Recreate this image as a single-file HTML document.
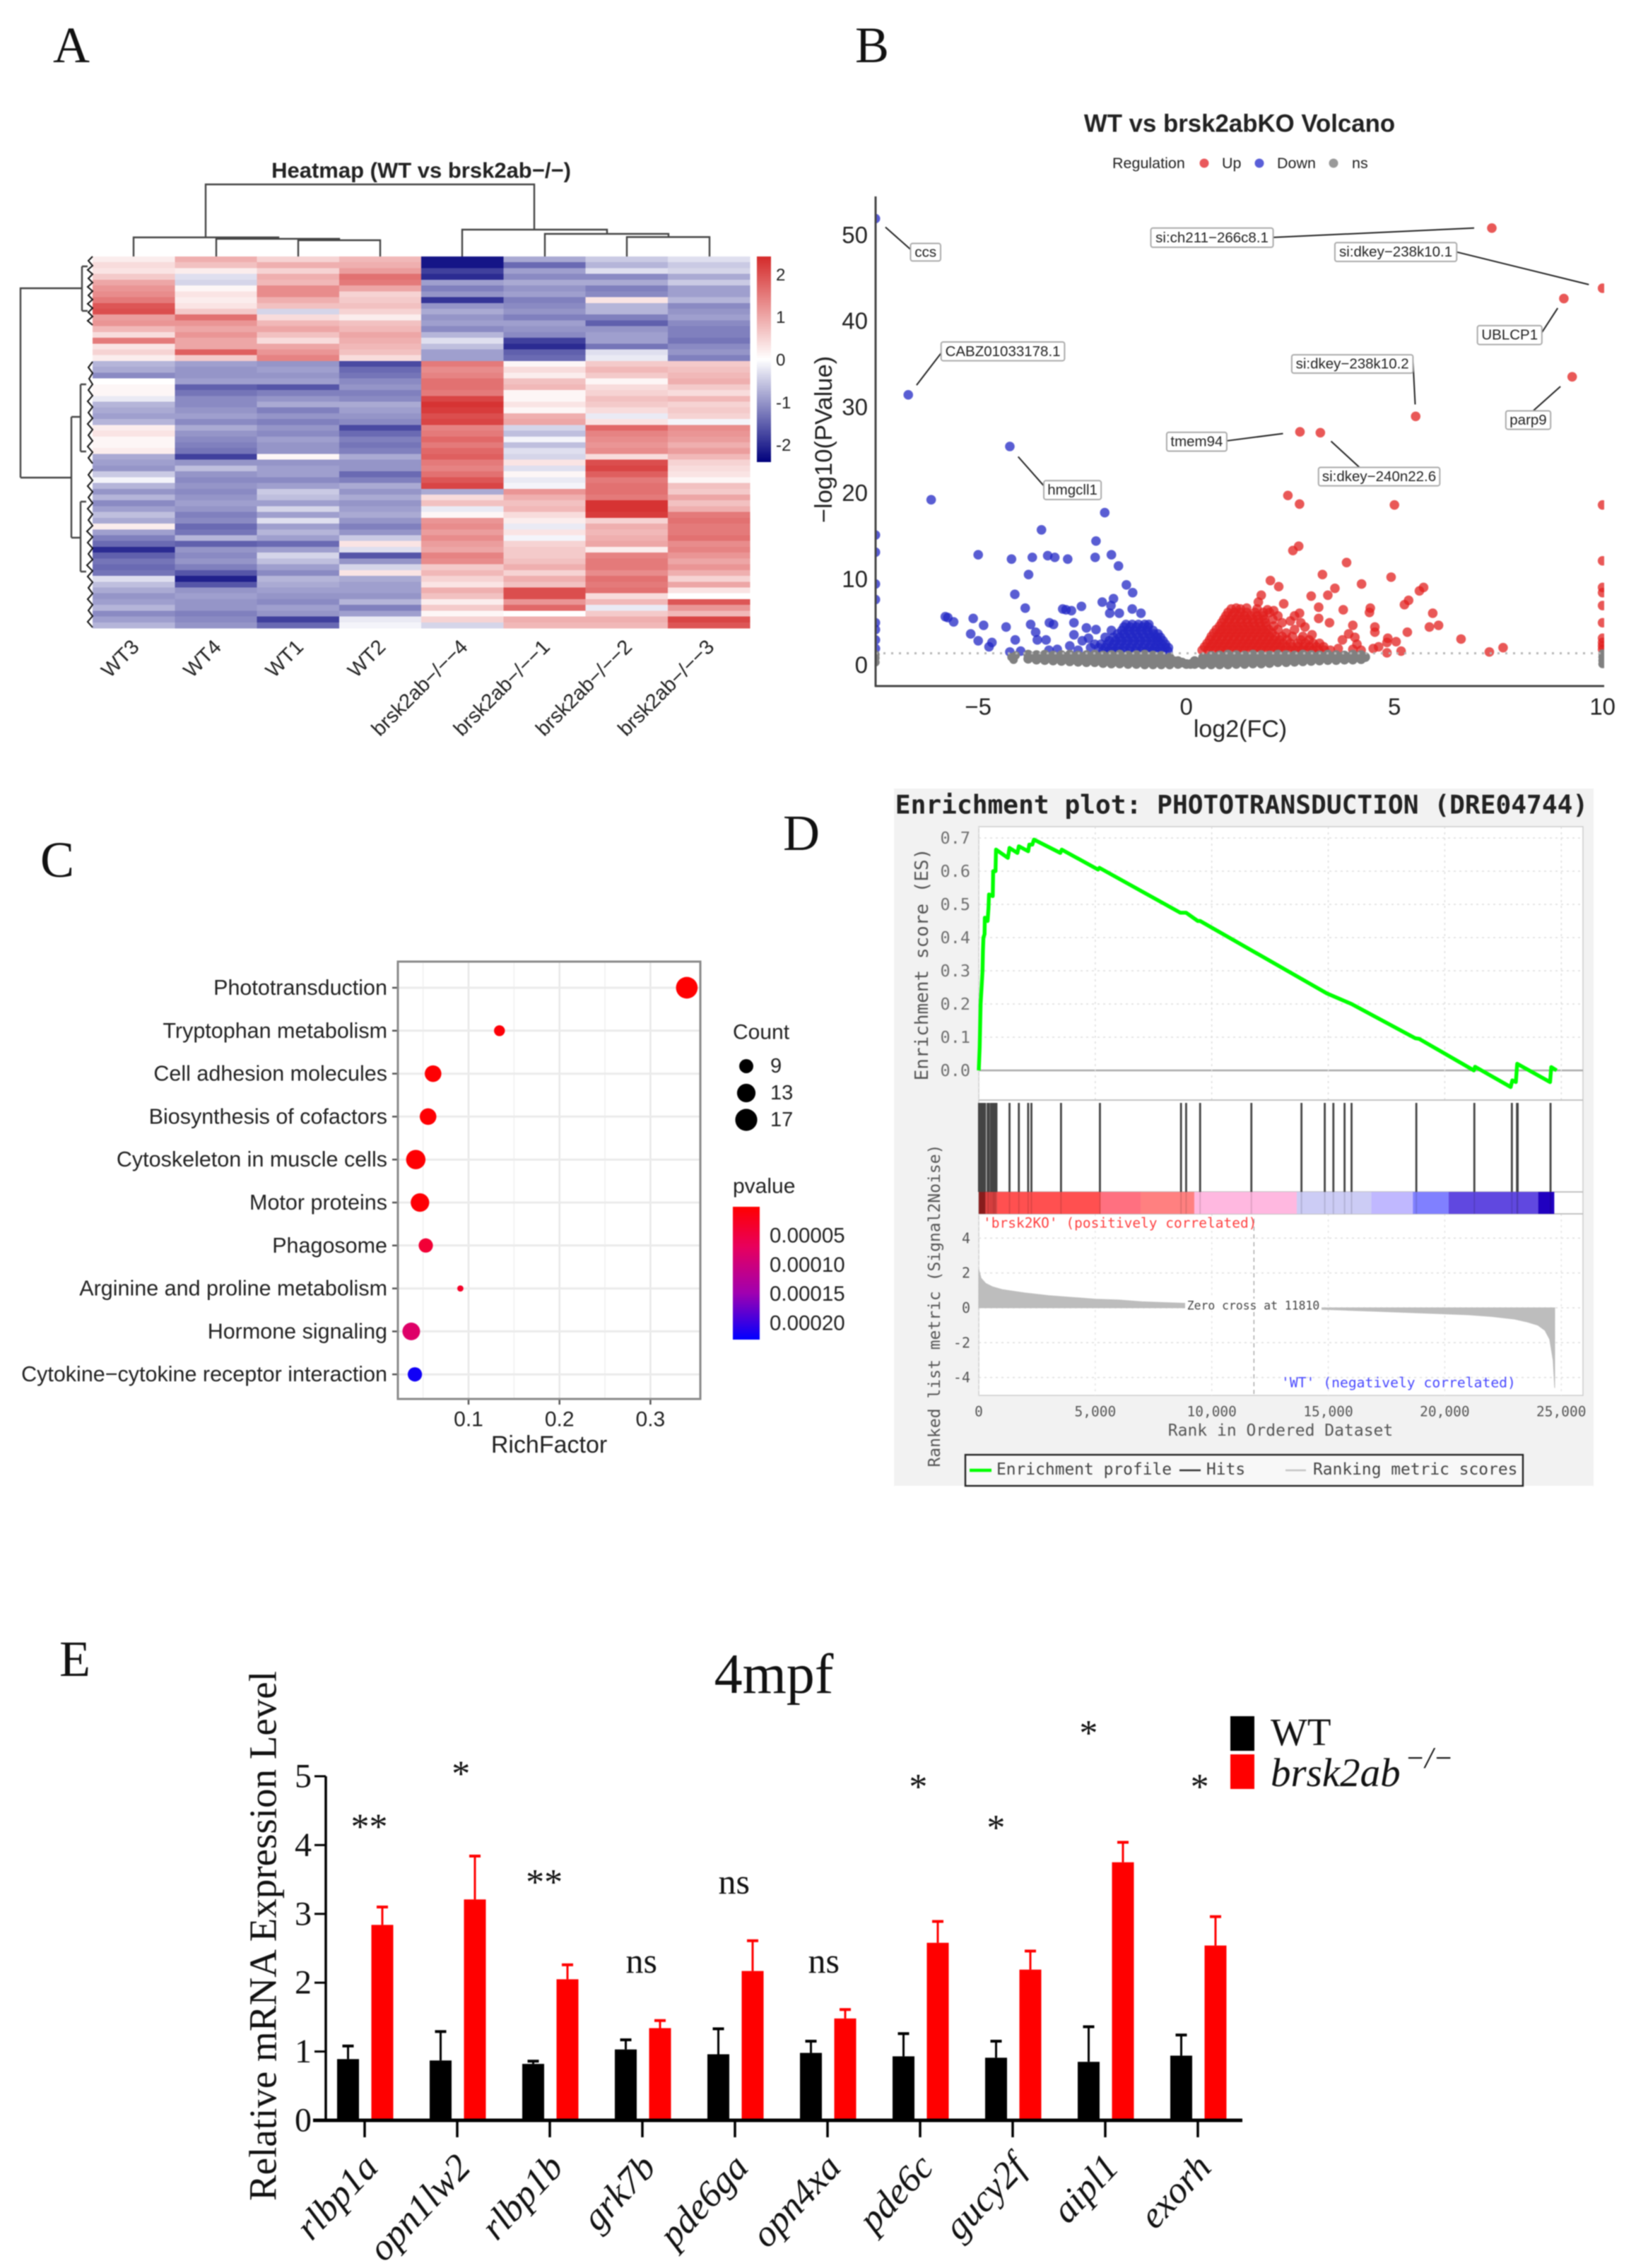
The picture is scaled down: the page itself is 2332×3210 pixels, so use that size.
<!DOCTYPE html>
<html lang="en">
<head>
<meta charset="utf-8">
<title>brsk2ab figure</title>
<style>
html,body{margin:0;padding:0;background:#fff}
svg{display:block;filter:blur(0.7px)}
text{font-family:"Liberation Sans",sans-serif;fill:#222}
.serif{font-family:"Liberation Serif",serif;fill:#111}
.mono{font-family:"DejaVu Sans Mono","Liberation Mono",monospace}
</style>
</head>
<body>
<svg id="fig" xmlns="http://www.w3.org/2000/svg" width="2332" height="3210" viewBox="0 0 2332 3210">
<defs>
<clipPath id="vclip"><rect x="1239" y="270" width="1031" height="701"/></clipPath>
<linearGradient id="hmGrad" x1="0" y1="0" x2="0" y2="1">
<stop offset="0" stop-color="#d42a2a"/><stop offset="0.5" stop-color="#ffffff"/><stop offset="1" stop-color="#00007c"/>
</linearGradient>
<linearGradient id="pGrad" x1="0" y1="0" x2="0" y2="1">
<stop offset="0" stop-color="#ff0000"/><stop offset="0.3" stop-color="#e8005c"/><stop offset="0.65" stop-color="#a000b0"/><stop offset="1" stop-color="#0000ff"/>
</linearGradient>
</defs>
<rect width="2332" height="3210" fill="#fff"/>

<text class="serif" x="75" y="88" font-size="72">A</text>
<text class="serif" x="1210" y="88" font-size="72">B</text>
<text class="serif" x="57" y="1241" font-size="72">C</text>
<text class="serif" x="1108" y="1203" font-size="72">D</text>
<text class="serif" x="84" y="2372" font-size="72">E</text>

<!-- Panel A -->
<text x="596" y="241" font-size="31" font-weight="bold" text-anchor="middle" dominant-baseline="central">Heatmap (WT vs brsk2ab−/−)</text>
<g id="hm"></g>
<path fill="none" stroke="#444" stroke-width="2.4" d="M291 336V261H756V325M189 363V336H394V338M306 363V338H480V340M422 363V340H538V363M654 363V325H859V331M771 363V331H946V335.5M887 363V335.5H1004V363"/>
<path fill="none" stroke="#444" stroke-width="2.4" d="M116 377V440M29 676V408H116M101 761V590M29 676H101M114 639V544M101 590H114M114 809V710M101 761H114M116 377H124M116 440H124M114 544H122M114 639H122M114 710H122M114 809H122"/>
<path fill="none" stroke="#111" stroke-width="2" d="M131 363L125 369L131 376L124 382L131 388L125 394L131 400L124 406L131 412L125 418L131 424L124 430L131 436L125 442L131 448L124 454L131 460M131 512L125 520L131 528L126 536L131 544L125 552L131 560L124 568L131 576L125 584L131 592L124 600L131 608L125 616L131 624L124 632L131 640L125 648L131 656M131 664L125 672L131 680L124 688L131 696L125 704L131 712L124 720L131 728L125 736L131 744L123 752L131 760L124 768L131 776L125 784L131 792L123 800L131 808L124 816L131 824L125 832L131 840L124 848L131 856L125 864L131 872L124 880L131 888"/>
<rect x="1071" y="363" width="20" height="291" fill="url(#hmGrad)"/>

<!-- Panel B -->
<text x="1754" y="175" font-size="34.8" font-weight="bold" text-anchor="middle" dominant-baseline="central">WT vs brsk2abKO Volcano</text>
<text x="1574" y="231" font-size="21.5" dominant-baseline="central">Regulation</text>
<circle cx="1704" cy="231" r="6.5" fill="#e9585c"/>
<text x="1729" y="231" font-size="21.5" dominant-baseline="central">Up</text>
<circle cx="1782" cy="231" r="6.5" fill="#5a5fd8"/>
<text x="1807" y="231" font-size="21.5" dominant-baseline="central">Down</text>
<circle cx="1887" cy="231" r="6.5" fill="#999"/>
<text x="1913" y="231" font-size="21.5" dominant-baseline="central">ns</text>
<g id="vo"></g>
<text x="1755" y="1032" font-size="34" text-anchor="middle" dominant-baseline="central">log2(FC)</text>
<text transform="translate(1166,622) rotate(-90)" font-size="34.5" text-anchor="middle" dominant-baseline="central">−log10(PValue)</text>

<!-- Panel C -->
<rect x="563" y="1361" width="428" height="619" fill="#fff"/>
<g id="dp"></g>
<rect x="563" y="1361" width="428" height="619" fill="none" stroke="#8a8a8a" stroke-width="3"/>
<text x="777" y="2045" font-size="34" text-anchor="middle" dominant-baseline="central">RichFactor</text>
<text x="1037" y="1461" font-size="30" dominant-baseline="central">Count</text>
<text x="1037" y="1679" font-size="30" dominant-baseline="central">pvalue</text>
<rect x="1037" y="1708" width="38" height="188" fill="url(#pGrad)"/>

<!-- Panel D -->
<rect x="1265" y="1116" width="990" height="987" fill="#f2f2f2"/>
<rect x="1385" y="1170" width="855" height="805" fill="#fff" stroke="#ccc" stroke-width="1.5"/>
<text class="mono" x="1757" y="1139" font-size="36.2" font-weight="bold" text-anchor="middle" dominant-baseline="central" fill="#111">Enrichment plot: PHOTOTRANSDUCTION (DRE04744)</text>
<g id="gs"></g>
<text class="mono" transform="translate(1305,1365) rotate(-90)" font-size="26" text-anchor="middle" dominant-baseline="central" style="fill:#555">Enrichment score (ES)</text>
<text class="mono" transform="translate(1323,1848) rotate(-90)" font-size="23" text-anchor="middle" dominant-baseline="central" style="fill:#555">Ranked list metric (Signal2Noise)</text>
<text class="mono" x="1391" y="1731" font-size="19.5" dominant-baseline="central" style="fill:#ff4040">'brsk2KO' (positively correlated)</text>
<text class="mono" x="1813" y="1957" font-size="19.7" dominant-baseline="central" style="fill:#4848ff">'WT' (negatively correlated)</text>
<text class="mono" x="1812" y="2025" font-size="23" text-anchor="middle" dominant-baseline="central" style="fill:#555">Rank in Ordered Dataset</text>
<g>
<rect x="1366" y="2059" width="789" height="44" fill="#f8f8f8" stroke="#222" stroke-width="2.4"/>
<line x1="1372" y1="2081" x2="1403" y2="2081" stroke="#00ff00" stroke-width="4.5"/>
<text class="mono" x="1410" y="2080" font-size="22.9" dominant-baseline="central" style="fill:#444">Enrichment profile</text>
<line x1="1669" y1="2081" x2="1699" y2="2081" stroke="#333" stroke-width="2.5"/>
<text class="mono" x="1707" y="2080" font-size="22.9" dominant-baseline="central" style="fill:#444">Hits</text>
<line x1="1819" y1="2081" x2="1848" y2="2081" stroke="#c4c4c4" stroke-width="2.5"/>
<text class="mono" x="1858" y="2080" font-size="22.9" dominant-baseline="central" style="fill:#444">Ranking metric scores</text>
</g>

<!-- Panel E -->
<text class="serif" x="1095" y="2396" font-size="80" text-anchor="middle">4mpf</text>
<text class="serif" transform="translate(372,2740) rotate(-90)" font-size="55" text-anchor="middle" dominant-baseline="central">Relative mRNA Expression Level</text>
<g id="qp"></g>
<rect x="1741" y="2429" width="34" height="49" fill="#000"/>
<rect x="1741" y="2483" width="34" height="49" fill="#ff0000"/>
<text class="serif" x="1798" y="2470" font-size="55">WT</text>
<text class="serif" x="1798" y="2528" font-size="57" font-style="italic">brsk2ab</text>
<text class="serif" x="1988" y="2502" font-size="42" font-style="italic">−/−</text>
</svg>

<script>
/* ---------- Heatmap data: one row per gene; columns follow heatmapColumns ---------- */
const heatmapColumns = ["WT3","WT4","WT1","WT2","brsk2ab−/−−4","brsk2ab−/−−1","brsk2ab−/−−2","brsk2ab−/−−3"];
const heatmapRows = [
[.2,.9,.5,.8,-2.2,-.8,-.5,-.3],[.4,.7,.9,.9,-2.2,-1.4,-.7,-.5],[.3,.2,.5,1.1,-1.8,-.9,-.3,-.4],[.6,-.3,.9,1.6,-2,-1.1,-1.1,-.8],
[1,-.4,.8,1.5,-.9,-.8,-.8,-.5],[1.2,.1,1.3,1,-1.2,-1,-1.2,-.9],[1.3,.3,1.3,.5,-1,-.9,-1.1,-.9],[1.5,.2,.9,.6,-1.9,-1.2,.3,-.7],
[1.9,.3,.7,.7,-1,-1.1,-.7,-1.1],[2,.6,-.4,.5,-.8,-1,-.7,-1],[1.1,1.6,.4,.2,-1,-1.2,-1.2,-.9],[1.2,1.2,.8,.7,-.9,-.9,-1.5,-1.1],
[.8,1,1,.8,-1.1,-1,-1,-1.2],[.4,1.2,.7,1,-.7,-1.1,-.9,-1.2],[1.5,1,.4,.9,-.3,-1.8,-.9,-1.3],[.3,1,1,.8,-.6,-2,-1.3,-1.1],
[.5,1.8,1.2,.7,-.9,-1.5,-.3,-1],[.2,.6,1.4,.4,-.9,-1.4,-.2,-1.2],
[-.7,-.9,-1,-1.7,1.5,.1,.6,.6],[-.8,-1,-.9,-1.4,1.3,.4,.8,.7],[-1.1,-1,-1,-1.3,1.4,.2,.6,.8],[0,-.9,-.9,-1.1,1.6,.7,.1,.9],
[.1,-1.5,-1.6,-1,1.6,.8,.4,.6],[.1,-1.3,-1.2,-1.2,1.5,.1,.5,.4],[-.2,-1.1,-1,-1.1,2.1,.1,.7,.8],[-.7,-1.1,-.8,-.8,2.3,.3,.6,.5],
[-.8,-1,-1.2,-.9,2.2,.1,.4,.6],[-.9,-.9,-1,-1,2,.9,-.2,.5],[-.7,-1.1,-1.2,-1.1,2.1,1,.3,-.1],
[.2,-.8,-1,-1.7,1.4,-.4,1.7,1.3],[.3,-1,-1.1,-1.4,1.5,-.6,1.4,1.2],[.1,-1.1,-.9,-1.2,1.7,-.1,1.3,1.1],[.1,-1.2,-1,-1.3,1.5,-.6,1.2,.9],
[.2,-1.3,-1,-1.2,1.7,-.3,1.3,1.1],[-.8,-1.8,.1,-.8,1.8,-.4,.4,.8],[-.9,-1,-1,-1,1.5,.3,2,.5],[-1,-.6,-.9,-1,1.4,-.3,2.1,.4],
[-.5,-1,-.9,-1.4,1.6,.1,1.8,.3],[-.1,-1.1,-1.1,-1.2,1.9,-.2,1.5,.1],[-.7,-1,-.9,-.8,2.1,-.1,1.6,.7],
[-1,-1.1,-.5,-1,-.8,1.2,1.6,.6],[-.7,-1,-.6,-.8,.4,.9,1.5,1],[-1.1,-.9,-.9,-1,.7,.7,2.3,.7],[-.9,-1,-.4,-.9,-.2,.8,2.3,.9],[-.6,-1.2,-.9,-.8,.1,.4,2.2,1.5],
[-.8,-1.1,-.3,-1,1.2,.2,.5,1.6],[.2,-1.4,-.9,-1.2,1.3,-.2,.9,1.5],[-.9,-1.3,-.7,-1,1.1,.3,.8,1.5],[-1.2,-.7,-.9,-.5,1.3,-.1,.9,1.6],
[-1.4,-1.5,-1.4,.3,1.1,.5,1,1.3],[-2,-1,-.9,-.3,1,.6,.2,1.4],[-1.5,-1.1,-.4,-1.6,1.4,.6,1.4,1.2],[-1.3,-1,-.6,-1,1.3,.7,1.5,1],
[-1.4,-1.2,-.9,-.4,.6,.9,1.5,1.2],[-1.3,-1.6,-1.1,.3,.8,.5,1.3,.9],[-.3,-2.1,-.7,-.8,.5,.9,1.6,.5],[-.6,-1.6,-.8,-.9,.3,.7,1.5,1],
[-.8,-1,-.9,-.9,.9,2,1.6,.3],[-1,-.9,-1,-1,.7,2,.4,0],[-.9,-1,-1.1,-.7,.2,1.2,.8,1.9],[-.7,-1,-.9,-1.2,.6,1.7,-.2,1.2],
[-1.1,-1.2,-1,-.9,.1,0,.6,.8],[-.9,-1.1,-1.8,-.2,.5,.9,.9,2.1],[-.7,-1,-1.4,-.1,-.4,.8,.8,1.9]
];
const heatmapTicks = [2,1,0,-1,-2];

/* ---------- Volcano data: [log2FC, -log10P] ---------- */
const volcanoXTicks = [-5,0,5,10];
const volcanoYTicks = [0,10,20,30,40,50];
const pThreshold = 1.35;
const downPoints = [[-7.47,51.9],[-6.68,31.4],[-4.24,25.4],[-6.13,19.2],[-1.96,17.7],[-3.48,15.7],[-2.17,14.4],[-7.47,15.1],[-7.47,13.1],[-5,12.8],[-4.2,12.3],[-3.7,12.5],[-3.33,12.7],[-3.16,12.5],[-2.85,12.3],[-2.19,12.5],[-1.8,12.8],[-1.63,11.5],[-3.79,10.5],[-1.44,9.3],[-7.47,9.4],[-1.29,8.4],[-4.12,8.2],[-7.47,7.6],[-1.75,7.7],[-2.02,7.3],[-2.52,6.8],[-3.87,6.6],[-2.97,6.5],[-2.89,6.4],[-2.76,6.3],[-1.81,6.9],[-1.3,6.5],[-1.09,6],[-1.61,6],[-1.84,6],[-5.79,5.6],[-5.73,5.5],[-5.59,5],[-5.12,5.4],[-4.87,4.6],[-4.33,4.4],[-3.74,4.7],[-3.29,4.9],[-3.19,4.7],[-2.7,4.9],[-7.47,4.9],[-7.47,4.1],[-7.47,2.9],[-7.47,1.9],[-5.18,3.6],[-5,2.8],[-4.67,2.6],[-4.74,2.1],[-4.11,2.9],[-3.62,3.8],[-3.58,2.9],[-3.37,2.9],[-4.24,1.5],[-3.98,1.6],[-2.4,4.3],[-2.17,4.1],
[-2.8,2.2],[-2.6,1.7],[-2.5,2.8],[-2.3,2],[-2.7,3.5],[-2.35,3.1],[-3.1,1.8],[-3.3,1.7],
[-2,1.6],[-1.87,1.6],[-1.74,1.6],[-1.61,1.6],[-1.48,1.6],[-1.35,1.6],[-1.22,1.6],[-1.09,1.6],[-.96,1.6],[-.83,1.6],[-.7,1.6],[-.57,1.6],[-.44,1.6],
[-2.1,2],[-1.95,2],[-1.8,2],[-1.65,2],[-1.5,2],[-1.35,2],[-1.2,2],[-1.05,2],[-.9,2],[-.76,2],[-.63,2],[-.5,2],[-.43,2],
[-2.2,2.4],[-2.05,2.4],[-1.9,2.4],[-1.75,2.4],[-1.6,2.4],[-1.45,2.4],[-1.3,2.4],[-1.15,2.4],[-1,2.4],[-.85,2.4],[-.72,2.4],[-.6,2.4],[-.5,2.4],
[-1.85,2.8],[-1.7,2.8],[-1.55,2.8],[-1.4,2.8],[-1.25,2.8],[-1.1,2.8],[-.95,2.8],[-.8,2.8],[-.68,2.8],[-.56,2.8],
[-1.95,3.2],[-1.75,3.2],[-1.6,3.2],[-1.45,3.2],[-1.3,3.2],[-1.15,3.2],[-1,3.2],[-.85,3.2],[-.72,3.2],[-.62,3.2],
[-1.65,3.6],[-1.5,3.6],[-1.35,3.6],[-1.2,3.6],[-1.05,3.6],[-.9,3.6],[-.78,3.6],[-.68,3.6],
[-1.8,4],[-1.55,4],[-1.4,4],[-1.25,4],[-1.1,4],[-.95,4],[-.8,4],[-1.5,4.4],[-1.35,4.4],[-1.2,4.4],[-1.05,4.4],[-.92,4.4],[-1.45,4.7],[-1.3,4.7],[-1.15,4.7],[-1,4.7],[-.9,4.7]];
const upPoints = [[7.34,50.8],[10,43.8],[9.07,42.6],[9.27,33.5],[5.51,28.9],[2.73,27.1],[3.22,27],[2.44,19.7],[2.72,18.7],[5,18.6],[10,18.6],[2.7,13.8],[2.56,13.3],[3.85,11.9],[10,12.1],[3.27,10.5],[4.92,10.2],[2.02,9.8],[2.22,9.1],[4.21,9.4],[3.57,8.9],[5.7,9],[5.6,8.6],[10,9],[10,8.4],[1.8,8.1],[3,8],[3.4,8.1],[10,6.9],[5.34,7.5],[5.24,7],[2.34,7.1],[1.73,7.3],[3.18,6.7],[4.42,6.6],[4.4,6.1],[3.77,6.4],[5.92,6],[2.72,6],[3.18,5.4],[3.44,4.9],[4,4.6],[6.06,4.6],[5.84,4.4],[4.53,4.4],[4.53,3.8],[5.31,3.8],[10,4.9],[6.6,3],[7.61,2],[7.28,1.5],[5.16,1.6],[4.82,1.4],[5.04,2.7],[4.84,3.1],[4.82,2.6],[4.62,2.1],[4.49,1.9],[10,3.1],[10,2.6],[10,2.2],[10,1.8],[4.05,3.2],[4.1,2.4],[3.9,3.6],[3.75,2.9],[3.65,1.9],[4,1.8],[4.2,1.7],
[.38,1.7],[.52,1.7],[.66,1.7],[.8,1.7],[.94,1.7],[1.08,1.7],[1.22,1.7],[1.36,1.7],[1.5,1.7],[1.64,1.7],[1.78,1.7],[1.92,1.7],[2.06,1.7],[2.2,1.7],[2.34,1.7],[2.48,1.7],[2.62,1.7],[2.76,1.7],[2.9,1.7],[3.04,1.7],[3.18,1.7],[3.32,1.7],[3.46,1.7],
[.44,2.1],[.58,2.1],[.72,2.1],[.86,2.1],[1,2.1],[1.14,2.1],[1.28,2.1],[1.42,2.1],[1.56,2.1],[1.7,2.1],[1.84,2.1],[1.98,2.1],[2.12,2.1],[2.26,2.1],[2.4,2.1],[2.54,2.1],[2.68,2.1],[2.82,2.1],[2.96,2.1],[3.12,2.1],[3.3,2.1],
[.5,2.5],[.64,2.5],[.78,2.5],[.92,2.5],[1.06,2.5],[1.2,2.5],[1.34,2.5],[1.48,2.5],[1.62,2.5],[1.76,2.5],[1.9,2.5],[2.04,2.5],[2.18,2.5],[2.32,2.5],[2.5,2.5],[2.68,2.5],[2.86,2.5],[3.05,2.5],[3.2,2.5],
[.56,2.9],[.7,2.9],[.84,2.9],[.98,2.9],[1.12,2.9],[1.26,2.9],[1.4,2.9],[1.54,2.9],[1.68,2.9],[1.82,2.9],[1.96,2.9],[2.1,2.9],[2.24,2.9],[2.42,2.9],[2.75,2.9],[2.95,2.9],
[.6,3.3],[.74,3.3],[.88,3.3],[1.02,3.3],[1.16,3.3],[1.3,3.3],[1.44,3.3],[1.58,3.3],[1.72,3.3],[1.86,3.3],[2,3.3],[2.14,3.3],[2.3,3.3],[2.55,3.3],[2.8,3.3],[3.02,3.5],
[.66,3.7],[.8,3.7],[.94,3.7],[1.08,3.7],[1.22,3.7],[1.36,3.7],[1.5,3.7],[1.64,3.7],[1.78,3.7],[1.92,3.7],[2.06,3.7],[2.4,3.7],
[.72,4.1],[.86,4.1],[1,4.1],[1.14,4.1],[1.28,4.1],[1.42,4.1],[1.56,4.1],[1.7,4.1],[1.84,4.1],[1.98,4.1],[2.2,4.1],[2.6,4.1],[2.85,4.4],
[.8,4.5],[.94,4.5],[1.08,4.5],[1.22,4.5],[1.36,4.5],[1.5,4.5],[1.64,4.5],[1.78,4.5],[1.92,4.5],[2.1,4.5],
[.85,4.9],[1,4.9],[1.15,4.9],[1.3,4.9],[1.45,4.9],[1.6,4.9],[1.75,4.9],[1.9,4.9],[2.3,4.9],[2.5,5.1],[2.75,4.9],
[.9,5.3],[1.04,5.3],[1.18,5.3],[1.32,5.3],[1.46,5.3],[1.6,5.3],[1.74,5.3],[1.88,5.3],[2.08,5.3],
[.95,5.7],[1.1,5.7],[1.25,5.7],[1.4,5.7],[1.55,5.7],[1.7,5.7],[1.85,5.7],[2.2,5.7],[2.6,5.7],
[1,6.1],[1.15,6.1],[1.3,6.1],[1.45,6.1],[1.65,6.1],[1.85,6.1],[2,6.1],
[1.08,6.5],[1.2,6.6],[1.3,6.5],[1.45,6.6],[1.7,6.5],[1.95,6.4],[2.1,6.3]];
const nsX = [-3.8,-3.6,-3.4,-3.2,-3,-2.8,-2.6,-2.4,-2.2,-2,-1.8,-1.6,-1.4,-1.2,-1,-.8,-.6,-.4,-.2,0,.2,.4,.6,.8,1,1.2,1.4,1.6,1.8,2,2.2,2.4,2.6,2.8,3,3.2,3.4,3.6,3.8,4,4.2];
const nsLowY = [.7,.6,.55,.5,.45,.4,.35,.3,.3,.2,.15,.15,.1,.1,.05,.05,.05,.05,.1,.1,.1,.05,.05,.05,.05,.1,.1,.15,.15,.2,.3,.3,.35,.4,.45,.5,.55,.55,.6,.6,.65];
const nsHighY = [1.2,1.15,1.2,1.1,1.15,1.2,1.1,1.15,1.2,1.1,1.15,1.2,1.1,1.15,1.2,1.1,1.05,.85,.45,.1,.45,.85,1.05,1.1,1.2,1.15,1.1,1.2,1.15,1.1,1.2,1.15,1.1,1.2,1.15,1.1,1.2,1.15,1.1,1.2,1.15];
const nsExtra = [[-4.2,.9],[-4.15,.6],[-4.1,1.1],[-7.47,.3],[-7.47,.8],[-7.47,1.2],[10,.1],[10,.5],[10,.9],[10,1.3]];
const geneLabels = ["ccs","si:ch211−266c8.1","si:dkey−238k10.1","UBLCP1","CABZ01033178.1","si:dkey−238k10.2","parp9","tmem94","si:dkey−240n22.6","hmgcll1"];
const geneBoxes = [[218,354,273,395],[658,318,882,363],[995,352,1218,396],[1256,546,1374,590],[274,584,500,628],[916,614,1138,657],[1308,745,1390,788],[687,795,797,839],[965,877,1187,920],[462,908,567,952]];
const geneLeaders = [[172,316,218,368],[882,340,1250,318],[1218,374,1460,450],[1374,562,1403,505],[274,610,229,685],[1138,630,1142,730],[1358,745,1408,688],[797,815,900,798],[1040,877,988,816],[462,920,415,852]];

/* ---------- KEGG dot plot data ---------- */
const pathways = ["Phototransduction","Tryptophan metabolism","Cell adhesion molecules","Biosynthesis of cofactors","Cytoskeleton in muscle cells","Motor proteins","Phagosome","Arginine and proline metabolism","Hormone signaling","Cytokine−cytokine receptor interaction"];
const richFactor = [.34,.134,.061,.0555,.042,.0466,.053,.091,.037,.041];
const pathwayCount = [18,8,12,12,15,14,10,7,13,10];
const pathwayP = [.000001,.000006,.000002,.000003,.000002,.000004,.00004,.00003,.00008,.00022];
const richTicks = [.1,.2,.3];
const richMinorTicks = [.05,.15,.25];
const countLegend = [9,13,17];
const pLegend = [.00005,.0001,.00015,.0002];
const pLegendText = ["0.00005","0.00010","0.00015","0.00020"];

/* ---------- GSEA data ---------- */
const esRank = [0,40,80,120,160,180,200,250,260,380,420,440,600,620,720,740,1250,1320,1660,1720,2120,2170,2300,2370,3500,3560,5120,5180,8650,8900,9400,9500,14940,16000,18730,18900,21250,21300,22830,22900,23050,23110,24520,24570,24800];
const esValue = [0,.07,.2,.25,.3,.36,.4,.41,.46,.45,.49,.53,.525,.6,.6,.665,.64,.67,.655,.675,.66,.68,.68,.695,.655,.665,.605,.61,.475,.475,.45,.45,.232,.2,.097,.095,.0,.011,-.05,-.03,-.035,.02,-.035,.01,0];
const hitRanks = [10,30,50,70,90,110,130,150,170,190,210,230,250,270,380,430,520,600,650,700,760,1320,1720,2120,2260,3530,5200,8680,8900,9500,11700,13850,14850,15220,15700,16000,18780,21270,22880,23100,23130,24540];
const colorBandEnds = [300,770,5230,6945,9250,13650,16850,18630,20170,24010,24700];
const colorBandFill = ["#c92c2c","#e84444","#ff5050","#ff7080","#ff8080","#ffb8e0","#ccccf5","#c0b8ff","#8080ff","#6048e0","#2000c0"];
const metricRank = [0,100,300,600,1000,1500,2000,3000,4000,5000,6000,7000,8000,9000,11810,15000,17000,19000,20000,21000,22000,23000,23500,24000,24300,24500,24650,24720];
const metricValue = [2.2,1.7,1.4,1.2,1.05,.95,.85,.7,.6,.5,.45,.35,.3,.25,0,-.1,-.2,-.3,-.35,-.4,-.5,-.65,-.8,-1,-1.3,-1.8,-3,-4.6];
const esTicks = [0,.1,.2,.3,.4,.5,.6,.7];
const metricTicks = [4,2,0,-2,-4];
const rankTicks = [0,5000,10000,15000,20000,25000];
const rankTickText = ["0","5,000","10,000","15,000","20,000","25,000"];

/* ---------- qPCR data ---------- */
const genes = ["rlbp1a","opn1lw2","rlbp1b","grk7b","pde6ga","opn4xa","pde6c","gucy2f","aipl1","exorh"];
const wtMean = [.89,.87,.82,1.03,.96,.98,.93,.91,.85,.94];
const wtUpper = [1.08,1.29,.86,1.17,1.33,1.15,1.26,1.15,1.36,1.24];
const koMean = [2.84,3.21,2.05,1.34,2.17,1.48,2.58,2.19,3.75,2.54];
const koUpper = [3.1,3.84,2.26,1.45,2.61,1.61,2.89,2.46,4.04,2.96];
const sigText = ["**","*","**","ns","ns","ns","*","*","*","*"];
const sigLevel = [4.33,5.1,3.52,2.25,3.4,2.25,4.91,4.31,5.69,4.91];
const sigGroup = [.05,1.04,1.94,2.99,3.99,4.96,5.98,6.82,7.82,9.02];
const qpcrTicks = [0,1,2,3,4,5];

/* ---------- Helpers ---------- */
const NS = "http://www.w3.org/2000/svg";
function mk(tag, attrs, parent, content) {
  const e = document.createElementNS(NS, tag);
  for (const k in attrs) e.setAttribute(k, attrs[k]);
  if (content !== undefined) e.textContent = content;
  parent.appendChild(e);
  return e;
}
function lerpColor(a, b, t) {
  const c = a.map((v, i) => Math.round(v + (b[i] - v) * t));
  return "rgb(" + c.join(",") + ")";
}

/* ---------- Panel A ---------- */
const hmG = document.getElementById("hm");
const hmLeft = 131, hmTop = 363, hmColW = 116.25, hmRowH = 526 / heatmapRows.length;
function hmColor(v) {
  const t = Math.min(1, Math.abs(v) / 2.4);
  return v >= 0 ? lerpColor([255,255,255],[212,42,42],t) : lerpColor([255,255,255],[0,0,124],t);
}
function hmX(i) { return hmLeft + i * hmColW; }
function hmY(r) { return hmTop + r * hmRowH; }
function cbY(v) { return 510 - v * 60.3; }
heatmapRows.forEach((row, r) => row.forEach((v, c) => {
  const cell = mk("rect", {x: hmX(c), y: hmY(r), width: hmColW + .5, height: hmRowH + .5, fill: hmColor(v), "shape-rendering": "crispEdges"}, hmG);
  
  
}));
heatmapColumns.forEach((name, i) => {
  const lx = hmX(i) + hmColW / 2 + 3;
  const t = mk("text", {transform: "translate(" + lx + ",911) rotate(-45)", "font-size": 29, "text-anchor": "end", "dominant-baseline": "central"}, hmG, name);
  
  
});
heatmapTicks.forEach(v => {
  const t = mk("text", {x: 1098, y: cbY(v), "font-size": 24, "dominant-baseline": "central"}, hmG, String(v));
  
  
});

/* ---------- Panel B ---------- */
const voG = document.getElementById("vo");
function vx(v) { return 1678.7 + v * 58.9; }
function vy(v) { return 941 - v * 12.17; }
const voClip = mk("g", {"clip-path": "url(#vclip)"}, voG);


upPoints.forEach(p => {
  const c = mk("circle", {cx: vx(p[0]), cy: vy(p[1]), r: 6.8, fill: "#e2201f", "fill-opacity": .75}, voClip);
  
  
});
downPoints.forEach(p => {
  const c = mk("circle", {cx: vx(p[0]), cy: vy(p[1]), r: 6.8, fill: "#2227c4", "fill-opacity": .75}, voClip);
  
  
});
nsX.forEach((x, i) => {
  const a = mk("circle", {cx: vx(x), cy: vy(nsLowY[i]), r: 6.8, fill: "#808080"}, voClip);
  
  
  const b = mk("circle", {cx: vx(x), cy: vy(nsHighY[i]), r: 6.8, fill: "#808080"}, voClip);
  
  
  const mid = mk("circle", {cx: vx(x + .1), cy: vy((nsLowY[i] + nsHighY[i]) / 2), r: 6.8, fill: "#808080"}, voClip);
  
  
});
nsExtra.forEach(p => {
  const c = mk("circle", {cx: vx(p[0]), cy: vy(p[1]), r: 6, fill: "#808080"}, voClip);
  
  
});
const pLine = mk("line", {x1: 1239, x2: 2270, y1: vy(pThreshold), y2: vy(pThreshold), stroke: "#b5b5b5", "stroke-width": 3, "stroke-dasharray": "3 8"}, voG);


const vAxisY = mk("line", {x1: 1239, x2: 1239, y1: 278, y2: 972, stroke: "#444", "stroke-width": 3}, voG);


const vAxisX = mk("line", {x1: 1238, x2: 2270, y1: 971, y2: 971, stroke: "#444", "stroke-width": 3}, voG);


volcanoXTicks.forEach(v => {
  const t = mk("text", {x: vx(v), y: 1000, "font-size": 33, "text-anchor": "middle", "dominant-baseline": "central"}, voG, v < 0 ? "−" + (-v) : String(v));
  
  
});
volcanoYTicks.forEach(v => {
  const t = mk("text", {x: 1228, y: vy(v), "font-size": 33, "text-anchor": "end", "dominant-baseline": "central"}, voG, String(v));
  
  
});
function zx(v) { return 1120 + v / 1.294; }
function zy(v) { return 130 + v / 1.65; }
geneLabels.forEach((name, i) => {
  const L = geneLeaders[i], B = geneBoxes[i];
  const l = mk("line", {x1: zx(L[0]), y1: zy(L[1]), x2: zx(L[2]), y2: zy(L[3]), stroke: "#222", "stroke-width": 2}, voG);
  
  
  const r = mk("rect", {x: zx(B[0]), y: zy(B[1]), width: zx(B[2]) - zx(B[0]), height: zy(B[3]) - zy(B[1]), rx: 3, fill: "#fff", stroke: "#aaa", "stroke-width": 2}, voG);
  
  
  const t = mk("text", {x: (zx(B[0]) + zx(B[2])) / 2, y: (zy(B[1]) + zy(B[3])) / 2, "font-size": 20.5, "text-anchor": "middle", "dominant-baseline": "central"}, voG, name);
  
  
});

/* ---------- Panel C ---------- */
const dpG = document.getElementById("dp");
function rx(v) { return 663 + (v - .1) * 1287; }
function ry(i) { return 1398 + i * 60.8; }
function rr(c) { return 4.4 + 3.3 * Math.sqrt(Math.max(0, c - 7)); }
function pColor(p) {
  const t = Math.min(1, p / .000228);
  const stops = [[255,0,0],[232,0,92],[160,0,176],[0,0,255]], pos = [0, .3, .65, 1];
  let k = 0;
  while (k < 2 && t > pos[k + 1]) k++;
  return lerpColor(stops[k], stops[k + 1], (t - pos[k]) / (pos[k + 1] - pos[k]));
}
richMinorTicks.forEach(v => {
  const g = mk("line", {x1: rx(v), x2: rx(v), y1: 1361, y2: 1980, stroke: "#f0f0f0", "stroke-width": 1.5}, dpG);
  
  
});
richTicks.forEach(v => {
  const g = mk("line", {x1: rx(v), x2: rx(v), y1: 1361, y2: 1980, stroke: "#e8e8e8", "stroke-width": 2.5}, dpG);
  
  
  const k = mk("line", {x1: rx(v), x2: rx(v), y1: 1980, y2: 1988, stroke: "#555", "stroke-width": 2.5}, dpG);
  
  
  const t = mk("text", {x: rx(v), y: 2009, "font-size": 30, "text-anchor": "middle", "dominant-baseline": "central"}, dpG, v.toFixed(1));
  
  
});
pathways.forEach((name, i) => {
  const g = mk("line", {x1: 563, x2: 991, y1: ry(i), y2: ry(i), stroke: "#ebebeb", "stroke-width": 3}, dpG);
  
  
  const k = mk("line", {x1: 555, x2: 563, y1: ry(i), y2: ry(i), stroke: "#555", "stroke-width": 2.5}, dpG);
  
  
  const t = mk("text", {x: 548, y: ry(i), "font-size": 30.5, "text-anchor": "end", "dominant-baseline": "central"}, dpG, name);
  
  
  const c = mk("circle", {cx: rx(richFactor[i]), cy: ry(i), r: rr(pathwayCount[i]), fill: pColor(pathwayP[i])}, dpG);
  
  
});
countLegend.forEach((c, i) => {
  const dy = 1509 + i * 38;
  const d = mk("circle", {cx: 1056, cy: dy, r: rr(c) * (i === 0 ? 1.1 : 1.05), fill: "#000"}, dpG);
  
  
  const t = mk("text", {x: 1090, y: dy, "font-size": 29, "dominant-baseline": "central"}, dpG, String(c));
  
  
});
pLegend.forEach((p, i) => {
  const y = 1708 + p / .000228 * 188;
  const t = mk("text", {x: 1089, y: y, "font-size": 29.5, "dominant-baseline": "central"}, dpG, pLegendText[i]);
  
  
});

/* ---------- Panel D ---------- */
const gsG = document.getElementById("gs");
function gx(r) { return 1385 + r * .03297; }
function ges(v) { return 1515 - v * 470; }
function gm(v) { return 1851 - v * 24.65; }
const grid = "3 5";
esTicks.forEach(v => {
  const g = mk("line", {x1: 1385, x2: 2240, y1: ges(v), y2: ges(v), stroke: v === 0 ? "#aaa" : "#ddd", "stroke-width": v === 0 ? 2.5 : 1.5, "stroke-dasharray": v === 0 ? "none" : grid}, gsG);
  
  
  const t = mk("text", {x: 1373, y: ges(v), class: "mono", "font-size": 23.5, "text-anchor": "end", "dominant-baseline": "central", style: "fill:#707070"}, gsG, v.toFixed(1));
  
  
});
metricTicks.forEach(v => {
  const g = mk("line", {x1: 1385, x2: 2240, y1: gm(v), y2: gm(v), stroke: "#ddd", "stroke-width": 1.5, "stroke-dasharray": grid}, gsG);
  
  
  const t = mk("text", {x: 1373, y: gm(v), class: "mono", "font-size": 20, "text-anchor": "end", "dominant-baseline": "central", style: "fill:#555"}, gsG, String(v));
  
  
});
rankTicks.forEach((r, i) => {
  const g1 = mk("line", {x1: gx(r), x2: gx(r), y1: 1170, y2: 1557, stroke: "#ddd", "stroke-width": 1.5, "stroke-dasharray": grid}, gsG);
  
  
  const g2 = mk("line", {x1: gx(r), x2: gx(r), y1: 1718, y2: 1975, stroke: "#e4e4e4", "stroke-width": 1.5, "stroke-dasharray": grid}, gsG);
  
  
  const t = mk("text", {x: gx(r), y: 1998, class: "mono", "font-size": 19.5, "text-anchor": "middle", "dominant-baseline": "central", style: "fill:#555"}, gsG, rankTickText[i]);
  
  
});
[1557, 1687, 1718].forEach(y => {
  const s = mk("line", {x1: 1385, x2: 2240, y1: y, y2: y, stroke: "#bbb", "stroke-width": 1.8}, gsG);
  
  
});
let bandStart = 0;
colorBandEnds.forEach((end, i) => {
  const b = mk("rect", {x: gx(bandStart), y: 1687, width: gx(end) - gx(bandStart), height: 31, fill: colorBandFill[i]}, gsG);
  
  
  bandStart = end;
});
hitRanks.forEach(r => {
  const h = mk("line", {x1: gx(r), x2: gx(r), y1: 1561, y2: 1687, stroke: "#444", "stroke-width": 2.8}, gsG);
  
  
  const f = mk("line", {x1: gx(r), x2: gx(r), y1: 1687, y2: 1718, stroke: "#000", "stroke-opacity": .12, "stroke-width": 2}, gsG);
  
  
});
const metricPath = "M" + gx(0) + " " + gm(0) + metricRank.map((r, i) => "L" + gx(r).toFixed(1) + " " + gm(metricValue[i]).toFixed(1)).join("") + "L" + gx(metricRank[metricRank.length - 1]) + " " + gm(0) + "Z";
const metricArea = mk("path", {d: metricPath, fill: "#bdbdbd", stroke: "#bdbdbd", "stroke-width": 1}, gsG);


const zeroLine = mk("line", {x1: gx(11810), x2: gx(11810), y1: 1725, y2: 1975, stroke: "#aaa", "stroke-width": 1.5, "stroke-dasharray": "6 5"}, gsG);


const zeroBg = mk("rect", {x: 1677, y: 1838, width: 193, height: 18, fill: "#fff"}, gsG);


const zeroTxt = mk("text", {x: 1773.5, y: 1848, class: "mono", "font-size": 16.4, "text-anchor": "middle", "dominant-baseline": "central", style: "fill:#444"}, gsG, "Zero cross at 11810");


const esPath = esRank.map((r, i) => (i ? "L" : "M") + gx(r).toFixed(1) + " " + ges(esValue[i]).toFixed(1)).join("");
const esLine = mk("path", {d: esPath, fill: "none", stroke: "#00ff00", "stroke-width": 5.4, "stroke-linejoin": "round"}, gsG);



/* ---------- Panel E ---------- */
const qpG = document.getElementById("qp");
function qx(i) { return 516 + i * 131; }
function qy(v) { return 3001 - v * 97.4; }
const barW = 31;
genes.forEach((name, i) => {
  const wx = qx(i) - 23.5, kx = qx(i) + 25;
  const ew = mk("line", {x1: wx, x2: wx, y1: qy(wtMean[i]), y2: qy(wtUpper[i]), stroke: "#000", "stroke-width": 3}, qpG);
  
  
  const cw = mk("line", {x1: wx - 8, x2: wx + 8, y1: qy(wtUpper[i]), y2: qy(wtUpper[i]), stroke: "#000", "stroke-width": 4}, qpG);
  
  
  const bw = mk("rect", {x: wx - barW / 2, y: qy(wtMean[i]), width: barW, height: qy(0) - qy(wtMean[i]), fill: "#000"}, qpG);
  
  
  const ek = mk("line", {x1: kx, x2: kx, y1: qy(koMean[i]), y2: qy(koUpper[i]), stroke: "#ff0000", "stroke-width": 3}, qpG);
  
  
  const ck = mk("line", {x1: kx - 8, x2: kx + 8, y1: qy(koUpper[i]), y2: qy(koUpper[i]), stroke: "#ff0000", "stroke-width": 4}, qpG);
  
  
  const bk = mk("rect", {x: kx - barW / 2, y: qy(koMean[i]), width: barW, height: qy(0) - qy(koMean[i]), fill: "#ff0000"}, qpG);
  
  
  const k = mk("line", {x1: qx(i), x2: qx(i), y1: qy(0), y2: qy(0) + 24, stroke: "#000", "stroke-width": 3.5}, qpG);
  
  
  const t = mk("text", {transform: "translate(" + (qx(i) + 9) + ",3058) rotate(-47)", class: "serif", "font-size": 53, "font-style": "italic", "text-anchor": "end", "dominant-baseline": "central"}, qpG, name);
  
  
  const isStar = sigText[i].charAt(0) === "*";
  const s = mk("text", {x: qx(sigGroup[i]), y: qy(sigLevel[i]) + (isStar ? 23 : 10), class: "serif", "font-size": isStar ? 52 : 50, "text-anchor": "middle"}, qpG, sigText[i]);
  
  
});
const qAxisX = mk("line", {x1: 443, x2: 1758, y1: qy(0), y2: qy(0), stroke: "#000", "stroke-width": 5}, qpG);


const qAxisY = mk("line", {x1: 461, x2: 461, y1: qy(5), y2: qy(0), stroke: "#000", "stroke-width": 3.5}, qpG);


qpcrTicks.forEach(v => {
  const k = mk("line", {x1: 445, x2: 461, y1: qy(v), y2: qy(v), stroke: "#000", "stroke-width": 3}, qpG);
  
  
  const t = mk("text", {x: 441, y: qy(v), class: "serif", "font-size": 48, "text-anchor": "end", "dominant-baseline": "central"}, qpG, String(v));
  
  
});
</script>
</body>
</html>
